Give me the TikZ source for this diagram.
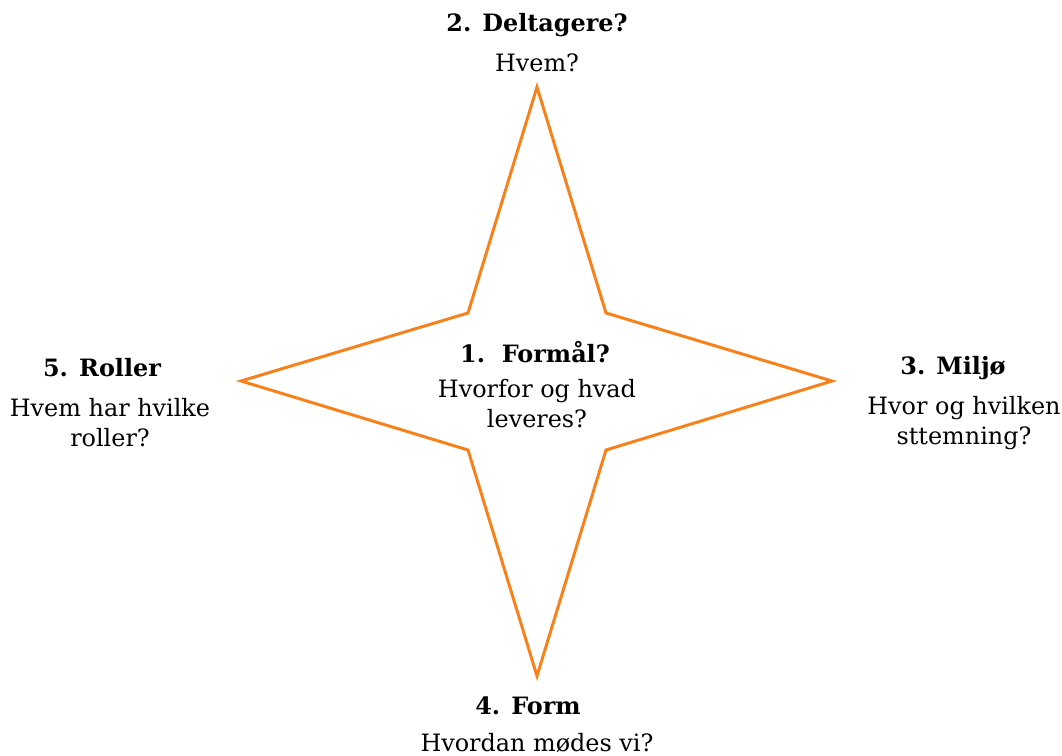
\documentclass[tikz,border=0pt]{standalone}
\usepackage{fontspec}
\setmainfont{DejaVu Serif}
\usetikzlibrary{positioning}

\definecolor{starorange}{RGB}{247,130,28}

\begin{document}
\begin{tikzpicture}[
        x=0.02cm, y=-0.02cm,
        star/.style={draw=starorange, line width=1.7pt, fill=white, line join=miter},
        title/.style={font=\fontsize{13.6}{17}\selectfont\bfseries, inner sep=0pt, align=center},
        body/.style={font=\fontsize{13.6}{17}\selectfont, inner sep=0pt, align=center}
    ]
        \useasboundingbox (0,0) rectangle (1062,755);

        % The star
        \draw[star] (537,87) -- (606,313) -- (832,381) -- (606,450)
            -- (537,676) -- (468,450) -- (241,381) -- (468,313) -- cycle;

        % 1. centre
        \node[title] (formaal) at (535,352) {1.\ \ Formål?};
        \node[body] (formaaltxt) at (537,404) {Hvorfor og hvad\\leveres?};

        % 2. top
        \node[title] (deltagere) at (537,25) {2. Deltagere?};
        \node[body] (deltageretxt) at (537,63) {Hvem?};

        % 3. right
        \node[title] (miljo) at (953,368) {3. Miljø};
        \node[body] (miljotxt) at (964,423) {Hvor og hvilken\\sttemning?};

        % 4. bottom
        \node[title] (form) at (528,706) {4. Form};
        \node[body] (formtxt) at (537,743) {Hvordan mødes vi?};

        % 5. left
        \node[title] (roller) at (102,368) {5. Roller};
        \node[body] (rollertxt) at (110,423) {Hvem har hvilke\\roller?};

    \end{tikzpicture}
\end{document}
